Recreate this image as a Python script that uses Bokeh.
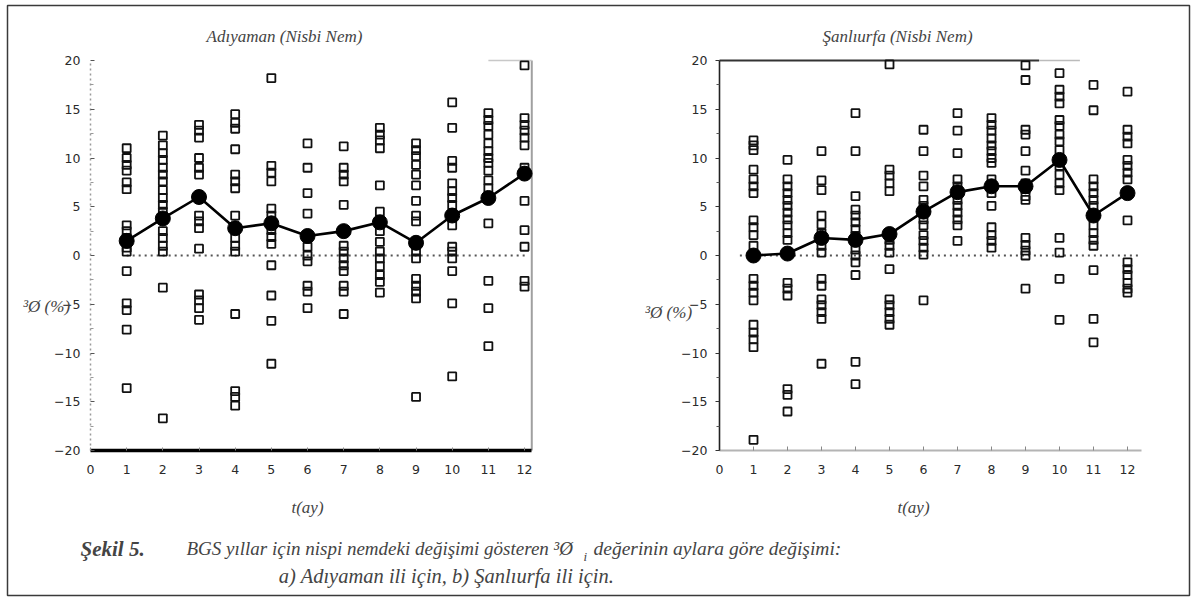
from bokeh.plotting import figure
from bokeh.models import Label, FixedTicker, Range1d, LinearAxis
from bokeh.embed import file_html
from bokeh.resources import INLINE

# ---------------- data ----------------
months = list(range(1, 13))
x_ticks = list(range(0, 13))
y_ticks = [-20, -15, -10, -5, 0, 5, 10, 15, 20]
y_minor = [-17.5, -12.5, -7.5, -2.5, 2.5, 7.5, 12.5, 17.5]

adiyaman_vals = [
    [11.0, 10.0, 9.3, 8.7, 7.5, 6.8, 3.1, 2.5, 1.8, 0.8, 0.4, -1.6, -4.9, -5.6, -7.6, -13.6],
    [12.3, 11.3, 10.5, 9.8, 9.0, 8.3, 7.6, 6.7, 5.9, 5.2, 4.5, 2.5, 1.8, 1.0, 0.4, -3.3, -16.7],
    [13.4, 12.8, 12.1, 10.0, 9.0, 8.3, 4.1, 3.5, 2.8, 0.7, -4.0, -4.6, -5.4, -6.6],
    [14.5, 13.6, 13.0, 10.9, 8.3, 7.6, 6.9, 4.1, 1.8, 1.0, 0.4, -6.0, -13.9, -14.5, -15.4],
    [18.2, 9.2, 8.5, 7.6, 4.8, 4.1, 2.6, 1.9, 1.2, -1.0, -4.1, -6.7, -11.1],
    [11.5, 9.0, 6.4, 4.3, 0.9, 0.0, -0.6, -3.1, -3.7, -5.4],
    [11.2, 9.0, 8.3, 7.6, 5.2, 1.0, 0.4, -0.3, -1.0, -1.6, -3.1, -3.7, -6.0],
    [13.1, 12.4, 11.8, 11.0, 7.2, 4.5, 2.5, 1.4, 0.4, -0.3, -1.1, -2.0, -2.7, -3.8],
    [11.5, 10.8, 10.2, 9.3, 8.3, 7.2, 5.6, 4.1, 3.5, 0.4, -0.3, -2.4, -3.1, -3.7, -4.4, -14.5],
    [15.7, 13.1, 9.7, 9.0, 7.4, 6.6, 5.9, 5.2, 3.1, 0.9, 0.4, -0.3, -1.6, -4.9, -12.4],
    [14.6, 13.9, 13.3, 12.4, 11.5, 10.7, 10.0, 9.5, 8.7, 7.7, 6.9, 3.3, -2.6, -5.4, -9.3],
    [19.5, 14.1, 13.4, 12.8, 12.1, 11.3, 9.0, 5.6, 2.6, 0.9, -2.6, -3.2],
]
adiyaman_mean = [1.5, 3.8, 6.0, 2.8, 3.3, 2.0, 2.5, 3.4, 1.3, 4.1, 5.9, 8.4]

sanliurfa_vals = [
    [11.8, 11.3, 10.8, 8.8, 7.8, 7.1, 6.4, 3.6, 2.9, 2.1, 1.0, -2.4, -3.1, -3.8, -4.6, -7.1, -7.9, -8.6, -9.4, -18.9],
    [9.8, 7.8, 7.1, 6.4, 5.7, 5.1, 4.4, 3.7, 3.1, 2.3, 1.6, -2.8, -3.4, -4.1, -13.7, -14.3, -16.0],
    [10.7, 7.7, 6.7, 4.1, 3.2, 2.3, 1.0, 0.3, -2.4, -3.1, -4.5, -5.1, -5.8, -6.5, -11.1],
    [14.6, 10.7, 6.1, 4.7, 4.1, 3.4, 2.7, 2.0, 0.6, 0.0, -0.7, -2.0, -10.9, -13.2],
    [19.6, 8.8, 8.2, 7.4, 6.6, 1.6, 1.0, 0.3, -1.4, -4.5, -5.1, -5.8, -6.5, -7.1],
    [12.9, 10.7, 8.2, 7.1, 5.7, 5.1, 3.7, 3.1, 2.1, 1.5, 0.8, 0.1, -4.6],
    [14.6, 12.8, 10.5, 7.8, 7.1, 5.7, 5.1, 4.4, 3.7, 3.1, 1.5],
    [14.1, 13.4, 12.8, 12.0, 11.3, 10.7, 10.0, 9.5, 7.8, 6.4, 5.1, 2.9, 2.1, 1.5, 0.8],
    [19.5, 18.0, 12.9, 12.4, 10.7, 8.7, 7.4, 6.8, 6.1, 5.7, 1.8, 1.1, 0.5, 0.0, -3.4],
    [18.7, 17.0, 16.3, 15.6, 13.9, 13.3, 12.4, 11.7, 10.8, 9.2, 8.3, 7.4, 6.7, 1.8, 0.3, -2.4, -6.6],
    [17.5, 14.9, 7.8, 7.1, 6.4, 5.7, 5.1, 3.1, 2.3, 1.6, 1.0, -1.5, -6.5, -8.9],
    [16.8, 12.9, 12.2, 11.5, 9.8, 9.2, 8.5, 7.8, 3.6, -0.7, -1.4, -2.0, -2.8, -3.4, -3.8],
]
sanliurfa_mean = [0.0, 0.2, 1.8, 1.6, 2.2, 4.5, 6.5, 7.1, 7.1, 9.8, 4.1, 6.4]

titles = ["Adıyaman (Nisbi Nem)", "Şanlıurfa (Nisbi Nem)"]
y_label = "³Ø (%)"
x_label = "t(ay)"
cap_bold = "Şekil 5."
cap_1a = "BGS yıllar için nispi nemdeki değişimi gösteren ³Ø"
cap_sub = "i"
cap_1b = "değerinin aylara göre değişimi:"
cap_2 = "a) Adıyaman ili için, b) Şanlıurfa ili için."

# ---------------- layout (pixel geometry) ----------------
W, H = 1196, 600
Y0_PX, Y_PPU = 255.0, 9.75          # value 0 row and pixels per unit
L_X0_PX, L_PPU = 90.0, 36.17        # left panel month 0 column
R_X0_PX, R_PPU = 719.0, 34.0        # right panel month 0 column

SERIF = "Liberation Serif"
TICK_FONT = "DejaVu Sans"

p = figure(width=W, height=H, x_range=Range1d(0, W), y_range=Range1d(H, 0),
           min_border=0, x_axis_location=None, y_axis_location=None,
           title=None, output_backend="svg", toolbar_location=None)
p.outline_line_color = None
p.grid.visible = False
p.background_fill_color = "white"
p.border_fill_color = "white"

p.extra_x_ranges = {
    "adi": Range1d(-L_X0_PX / L_PPU, (W - L_X0_PX) / L_PPU),
    "san": Range1d(-R_X0_PX / R_PPU, (W - R_X0_PX) / R_PPU),
}
p.extra_y_ranges = {"val": Range1d(-(H - Y0_PX) / Y_PPU, Y0_PX / Y_PPU)}

# outer frame of the figure
p.quad(left=[7], right=[1189], top=[5], bottom=[595], fill_color=None,
       line_color="#3a3a3a", line_width=1.5)


def style_axis(ax):
    ax.major_label_text_font = TICK_FONT
    ax.major_label_text_font_size = "12.5px"
    ax.major_label_text_color = "#2a2a2a"


def panel(rname, vals, means, x_end, left_style):
    xa = LinearAxis(x_range_name=rname, y_range_name="val", fixed_location=-20,
                    bounds=(0, x_end), ticker=FixedTicker(ticks=x_ticks))
    style_axis(xa)
    xa.major_label_standoff = 14
    xa.minor_tick_line_color = None
    ya = LinearAxis(x_range_name=rname, y_range_name="val", fixed_location=0,
                    bounds=(-20, 20), ticker=FixedTicker(ticks=y_ticks, minor_ticks=y_minor))
    style_axis(ya)
    if left_style:
        ya.axis_line_color = "#9a9a9a"
        ya.axis_line_dash = "2 3"
        ya.axis_line_width = 1.5
        ya.major_tick_in = 4
        ya.major_tick_out = 0
        ya.major_tick_line_color = "#555"
        ya.minor_tick_in = 3
        ya.minor_tick_out = 0
        ya.minor_tick_line_color = "#999"
        ya.major_label_standoff = 10
        xa.axis_line_color = "black"
        xa.axis_line_width = 3.5
        xa.major_tick_in = 3
        xa.major_tick_out = 0
        xa.major_tick_line_color = "#888"
        p.segment(x0=[x_end], y0=[-20], x1=[x_end], y1=[20], line_color="#a0a0a0",
                  line_width=2, x_range_name=rname, y_range_name="val")
        p.segment(x0=[11.0], y0=[20.0], x1=[x_end], y1=[20.0], line_color="#c8c8c8",
                  line_width=1.5, x_range_name=rname, y_range_name="val")
        zero_x = [1.0, 12.1]
    else:
        ya.axis_line_color = "#222"
        ya.axis_line_width = 1.6
        ya.major_tick_in = 0
        ya.major_tick_out = 4
        ya.major_tick_line_color = "#333"
        ya.minor_tick_in = 0
        ya.minor_tick_out = 3
        ya.minor_tick_line_color = "#555"
        ya.major_label_standoff = 8
        xa.axis_line_color = "#b4b4b4"
        xa.axis_line_width = 2
        xa.major_tick_in = 4
        xa.major_tick_out = 0
        xa.major_tick_line_color = "#888"
        p.segment(x0=[0.0], y0=[20.0], x1=[9.4], y1=[20.0], line_color="#333",
                  line_width=2, x_range_name=rname, y_range_name="val")
        p.segment(x0=[9.4], y0=[20.0], x1=[10.6], y1=[20.0], line_color="#bbb",
                  line_width=1.5, x_range_name=rname, y_range_name="val")
        zero_x = [0.6, 12.4]
    p.add_layout(xa, "below")
    p.add_layout(ya, "left")

    p.line(zero_x, [0, 0], line_color="#555", line_width=2, line_dash="2 4",
           x_range_name=rname, y_range_name="val")
    xs, ys = [], []
    for m, vs in zip(months, vals):
        xs += [m] * len(vs)
        ys += vs
    p.scatter(xs, ys, marker="square", size=8, fill_color=None, line_color="#111",
              line_width=1.8, x_range_name=rname, y_range_name="val")
    p.line(months, means, line_color="black", line_width=2.6,
           x_range_name=rname, y_range_name="val")
    p.scatter(months, means, marker="circle", size=15, fill_color="black",
              line_color="black", x_range_name=rname, y_range_name="val")


panel("adi", adiyaman_vals, adiyaman_mean, 12.2, True)
panel("san", sanliurfa_vals, sanliurfa_mean, 12.4, False)


def label(x, y, text, size, style="italic", align="center"):
    p.add_layout(Label(x=x, y=y, text=text, text_font=SERIF, text_font_style=style,
                       text_font_size=size, text_align=align, text_baseline="middle"))


# panel titles and axis titles (pixel positions)
label(284, 36, titles[0], "17px")
label(897, 36, titles[1], "17px")
label(46, 306, y_label, "17px")
label(668, 312, y_label, "17px")
label(307, 507, x_label, "17px")
label(913, 507, x_label, "17px")

# caption
label(80, 548, cap_bold, "21px", style="bold italic", align="left")
label(186, 548, cap_1a, "19px", align="left")
label(583, 556, cap_sub, "13px", align="left")
label(593, 548, cap_1b, "19.5px", align="left")
label(446, 575, cap_2, "20.5px")

open("out.html", "w").write(file_html(p, INLINE))
